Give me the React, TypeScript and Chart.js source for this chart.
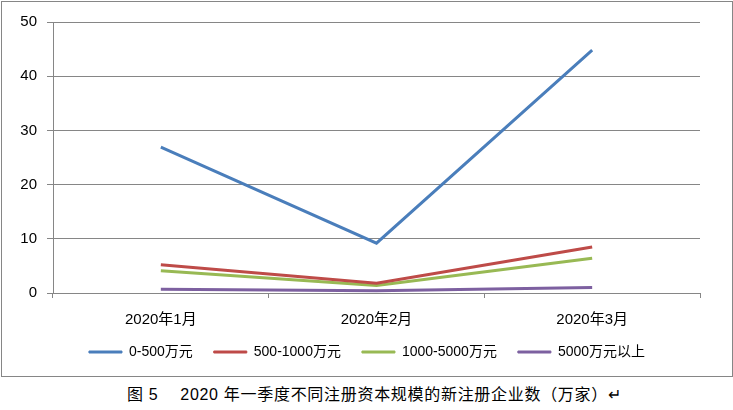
import React, { useEffect, useRef } from "react";
import { Chart, registerables } from "chart.js";

Chart.register(...registerables);

const categories = ["2020年1月", "2020年2月", "2020年3月"];
const seriesNames = ["0-500万元", "500-1000万元", "1000-5000万元", "5000万元以上"];
const s0to500 = [26.9, 9.2, 44.8];
const s500to1000 = [5.2, 1.8, 8.5];
const s1000to5000 = [4.1, 1.4, 6.4];
const s5000plus = [0.7, 0.4, 1.0];
const yMin = 0;
const yMax = 50;
const yStep = 10;
const colors = ["#4A7EBB", "#BE4B48", "#98B954", "#7D60A0"];
const caption = "图 5　 2020 年一季度不同注册资本规模的新注册企业数（万家）↵";

const FONT = '"Liberation Sans", "Noto Sans CJK SC", sans-serif';

const legendShift = {
  id: "legendShift",
  afterLayout(chart: any) {
    const l = chart.legend;
    if (l) {
      l.top -= 7;
      l.bottom -= 7;
    }
  },
};

export default function App() {
  const ref = useRef<HTMLCanvasElement | null>(null);

  useEffect(() => {
    if (!ref.current) return;
    const seriesData = [s0to500, s500to1000, s1000to5000, s5000plus];
    const chart = new Chart(ref.current, {
      type: "line",
      data: {
        labels: categories,
        datasets: seriesNames.map((name, i) => ({
          label: name,
          data: seriesData[i],
          borderColor: colors[i],
          backgroundColor: colors[i],
          borderWidth: 3,
          pointRadius: 0,
          tension: 0,
          fill: false,
          yAxisID: "y",
        })),
      },
      plugins: [legendShift],
      options: {
        animation: false,
        responsive: false,
        maintainAspectRatio: false,
        layout: { padding: { left: 0, right: 0, top: 20, bottom: 0 } },
        plugins: {
          tooltip: { enabled: false },
          legend: {
            position: "bottom",
            labels: {
              boxWidth: 33,
              boxHeight: 2,
              padding: 21,
              color: "#000",
              font: { family: FONT, size: 14 },
              generateLabels: (ch: any) =>
                ch.data.datasets.map((ds: any, i: number) => ({
                  text: ds.label,
                  fillStyle: colors[i],
                  strokeStyle: colors[i],
                  lineWidth: 1,
                  hidden: false,
                  datasetIndex: i,
                  fontColor: "#000",
                })),
            },
          },
        },
        scales: {
          x: {
            type: "category",
            offset: true,
            grid: {
              offset: true,
              drawOnChartArea: false,
              drawTicks: true,
              tickLength: 5,
              color: "#868686",
            },
            border: { color: "#868686" },
            ticks: {
              padding: 13,
              color: "#000",
              maxRotation: 0,
              font: { family: FONT, size: 15 },
            },
            afterFit: (s: any) => {
              s.height = 38;
            },
          },
          y: {
            min: yMin,
            max: yMax,
            grid: { color: "#868686", tickLength: 6 },
            border: { color: "#868686" },
            ticks: {
              stepSize: yStep,
              padding: 10,
              color: "#000",
              font: { family: FONT, size: 15 },
            },
            afterFit: (s: any) => {
              s.width = 51;
            },
          },
          yRight: {
            position: "right",
            display: true,
            grid: { display: false, drawTicks: false },
            border: { display: false },
            ticks: { display: false },
            afterFit: (s: any) => {
              s.width = 32;
            },
          },
        },
      },
    } as any);
    return () => chart.destroy();
  }, []);

  return (
    <div
      style={{
        position: "fixed",
        left: 0,
        top: 0,
        width: 733,
        height: 410,
        background: "#fff",
        overflow: "hidden",
      }}
    >
      <div
        style={{
          position: "absolute",
          left: 1,
          top: 1,
          width: 730,
          height: 374,
          border: "1px solid #868686",
        }}
      >
        <canvas ref={ref} width={730} height={374} style={{ display: "block", width: 730, height: 374 }} />
      </div>
      <div
        style={{
          position: "absolute",
          left: 127,
          top: 385,
          fontFamily: FONT,
          fontSize: 16,
          letterSpacing: "0.7px",
          lineHeight: "20px",
          color: "#000",
          whiteSpace: "pre",
        }}
      >
        {caption}
      </div>
    </div>
  );
}
